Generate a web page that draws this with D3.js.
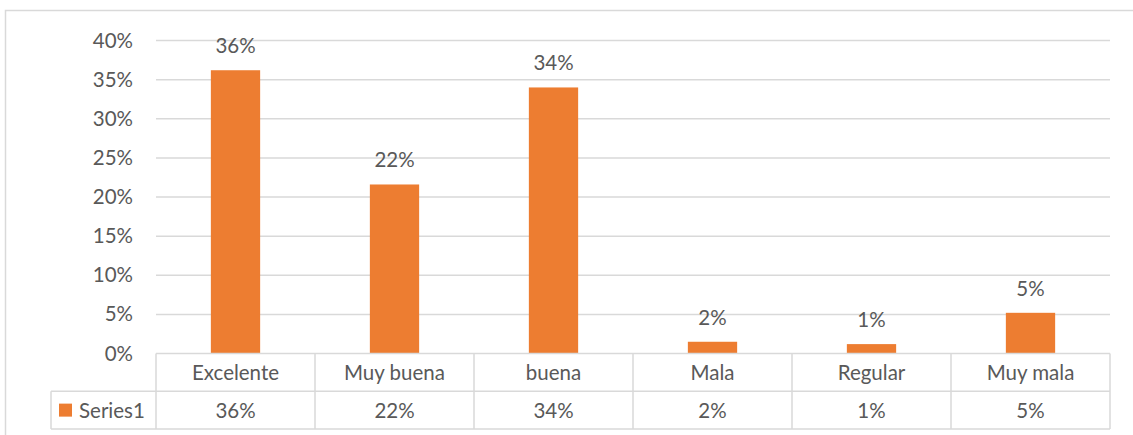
<!DOCTYPE html>
<html>
<head>
<meta charset="utf-8">
<script src="https://cdn.jsdelivr.net/npm/d3@7"></script>
<style>
  html, body { margin: 0; padding: 0; background: #fff; }
  svg { display: block; }
  text { font-family: Lato, "Noto Sans", sans-serif; fill: #595959; }
</style>
</head>
<body>
<svg id="chart" width="1133" height="435"></svg>
<script>
// Survey ratings (percent of responses)
const categories = ["Excelente", "Muy buena", "buena", "Mala", "Regular", "Muy mala"];
const seriesName = "Series1";
const values = [36.2, 21.6, 34.0, 1.5, 1.2, 5.2];
const yTicks = [0, 5, 10, 15, 20, 25, 30, 35, 40];

const W = 1133, H = 435;
const plot = { left: 156, right: 1110, top: 40.5, bottom: 353.5 };
const rowH = 37.75;
const legendLeft = 51;
const barColor = "#ED7D31";
const gridColor = "#d9d9d9";
const fontSize = 20.5;
const pct = v => Math.round(v) + "%";

const svg = d3.select("#chart");

// chart-area border
svg.append("rect")
  .attr("x", 5.5).attr("y", 10.5)
  .attr("width", W + 20).attr("height", H + 20)
  .attr("fill", "none").attr("stroke", gridColor).attr("stroke-width", 1.5);

const x = d3.scaleBand().domain(categories).range([plot.left, plot.right]).padding(0);
const y = d3.scaleLinear().domain([0, 40]).range([plot.bottom, plot.top]);

// horizontal gridlines
svg.append("g").selectAll("line").data(yTicks.filter(t => t > 0)).join("line")
  .attr("x1", plot.left).attr("x2", plot.right)
  .attr("y1", d => y(d)).attr("y2", d => y(d))
  .attr("stroke", gridColor).attr("stroke-width", 1.5);

// y axis labels via d3.axisLeft, with the axis line and ticks hidden
const yAxis = svg.append("g")
  .attr("transform", `translate(${plot.left - 16},0)`)
  .call(d3.axisLeft(y).tickValues(yTicks).tickFormat(d => d + "%").tickSize(0).tickPadding(7));
yAxis.select(".domain").remove();
yAxis.selectAll("text")
  .attr("font-family", "Lato, 'Noto Sans', sans-serif")
  .attr("font-size", fontSize).attr("fill", "#595959").style("fill", "#595959");

// bars
const barW = x.bandwidth() * 0.31;
svg.append("g").selectAll("rect").data(values).join("rect")
  .attr("x", (d, i) => x(categories[i]) + (x.bandwidth() - barW) / 2)
  .attr("y", d => y(d))
  .attr("width", barW)
  .attr("height", d => y(0) - y(d))
  .attr("fill", barColor);

// data labels
svg.append("g").selectAll("text").data(values).join("text")
  .attr("x", (d, i) => x(categories[i]) + x.bandwidth() / 2)
  .attr("y", d => y(d) - 17)
  .attr("text-anchor", "middle")
  .attr("font-size", fontSize)
  .text(d => pct(d));

// data table
const t = svg.append("g").attr("stroke", gridColor).attr("stroke-width", 1.5).attr("fill", "none");
const r0 = plot.bottom, r1 = plot.bottom + rowH, r2 = plot.bottom + 2 * rowH;
t.append("line").attr("x1", plot.left).attr("x2", plot.right).attr("y1", r0).attr("y2", r0);
t.append("line").attr("x1", legendLeft).attr("x2", plot.right).attr("y1", r1).attr("y2", r1);
t.append("line").attr("x1", legendLeft).attr("x2", plot.right).attr("y1", r2).attr("y2", r2);
t.append("line").attr("x1", legendLeft).attr("x2", legendLeft).attr("y1", r1).attr("y2", r2);
t.selectAll("line.col").data(categories.concat(["end"])).join("line")
  .attr("class", "col")
  .attr("x1", (d, i) => i < categories.length ? x(d) : plot.right)
  .attr("x2", (d, i) => i < categories.length ? x(d) : plot.right)
  .attr("y1", r0).attr("y2", r2);

// category row
svg.append("g").selectAll("text").data(categories).join("text")
  .attr("x", d => x(d) + x.bandwidth() / 2)
  .attr("y", r0 + rowH / 2 + 7.5)
  .attr("text-anchor", "middle")
  .attr("font-size", fontSize)
  .text(d => d);

// value row
svg.append("g").selectAll("text").data(values).join("text")
  .attr("x", (d, i) => x(categories[i]) + x.bandwidth() / 2)
  .attr("y", r1 + rowH / 2 + 7.5)
  .attr("text-anchor", "middle")
  .attr("font-size", fontSize)
  .text(d => pct(d));

// legend key
svg.append("rect")
  .attr("x", 59).attr("y", r1 + rowH / 2 - 6.5)
  .attr("width", 13).attr("height", 13)
  .attr("fill", barColor);
svg.append("text")
  .attr("x", 79).attr("y", r1 + rowH / 2 + 7.5)
  .attr("font-size", fontSize)
  .text(seriesName);
</script>
</body>
</html>
